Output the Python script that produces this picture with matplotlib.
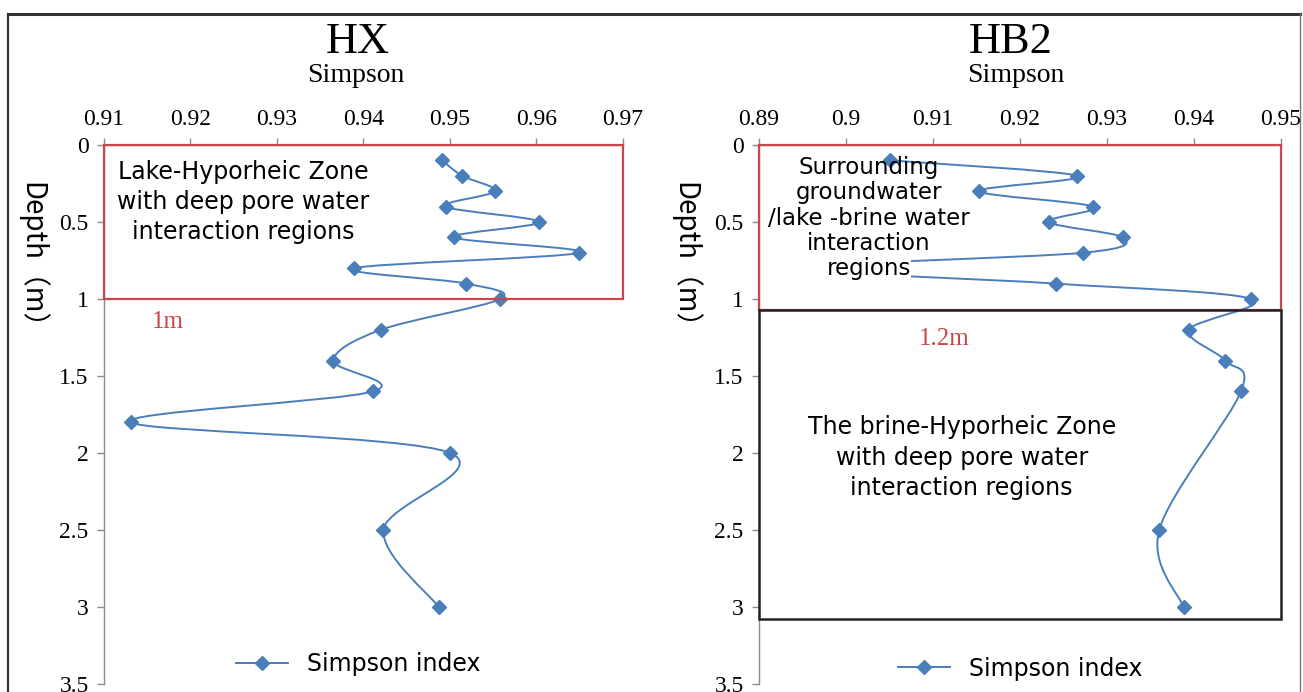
import numpy as np
import matplotlib
matplotlib.use("Agg")
import matplotlib.pyplot as plt
from matplotlib.path import Path
from matplotlib.patches import PathPatch, Rectangle
from matplotlib.lines import Line2D
from matplotlib.ticker import FuncFormatter

# ---- data -------------------------------------------------------------
hx_depth = [0.1, 0.2, 0.3, 0.4, 0.5, 0.6, 0.7, 0.8, 0.9, 1.0,
            1.2, 1.4, 1.6, 1.8, 2.0, 2.5, 3.0]
hx_simpson = [0.9491, 0.9514, 0.9552, 0.9495, 0.9603, 0.9505, 0.9649, 0.9389,
              0.9519, 0.9558, 0.9420, 0.9365, 0.9411, 0.9131, 0.9500, 0.9423,
              0.9487]

hb2_depth = [0.1, 0.2, 0.3, 0.4, 0.5, 0.6, 0.7, 0.8, 0.9, 1.0,
             1.2, 1.4, 1.6, 2.5, 3.0]
hb2_simpson = [0.9051, 0.9266, 0.9153, 0.9284, 0.9233, 0.9318, 0.9272, 0.8950,
               0.9241, 0.9466, 0.9394, 0.9436, 0.9454, 0.9360, 0.9388]

hx_xticks = [0.91, 0.92, 0.93, 0.94, 0.95, 0.96, 0.97]
hb2_xticks = [0.89, 0.90, 0.91, 0.92, 0.93, 0.94, 0.95]
depth_ticks = [0, 0.5, 1, 1.5, 2, 2.5, 3, 3.5]

W, H = 1303, 692
BLUE = "#4a7ebb"
RED = "#c9464b"
GREY = "#8c8c8c"
SERIF = "Liberation Serif"
SANS = "DejaVu Sans"


def smooth_path(x, y):
    """Catmull-Rom style cubic Bezier through the points (data coords)."""
    p = np.column_stack([x, y]).astype(float)
    verts = [p[0]]
    codes = [Path.MOVETO]
    n = len(p)
    for i in range(n - 1):
        p0 = p[i - 1] if i > 0 else p[i]
        p1, p2 = p[i], p[i + 1]
        p3 = p[i + 2] if i + 2 < n else p[i + 1]
        verts += [p1 + (p2 - p0) / 6.0, p2 - (p3 - p1) / 6.0, p2]
        codes += [Path.CURVE4] * 3
    return Path(verts, codes)


def setup(ax, xticks):
    ax.set_xlim(xticks[0], xticks[-1])
    ax.set_ylim(3.5, 0)
    ax.xaxis.tick_top()
    ax.set_xticks(xticks)
    ax.set_yticks(depth_ticks)
    ax.xaxis.set_major_formatter(FuncFormatter(lambda v, _: f"{v:g}"))
    ax.yaxis.set_major_formatter(FuncFormatter(lambda v, _: f"{v:g}"))
    for s in ("right", "bottom"):
        ax.spines[s].set_visible(False)
    for s in ("left", "top"):
        ax.spines[s].set_color(GREY)
        ax.spines[s].set_linewidth(1.0)
    ax.tick_params(axis="both", direction="out", length=5, width=1,
                   color=GREY, labelsize=17, pad=6)
    for lab in ax.get_xticklabels() + ax.get_yticklabels():
        lab.set_fontfamily(SERIF)
    ax.patch.set_alpha(0)


def draw_series(ax, x, y):
    ax.add_patch(PathPatch(smooth_path(x, y), fill=False, edgecolor=BLUE,
                           lw=1.4, zorder=3))
    ax.plot(x, y, linestyle="none", marker="D", ms=7, color=BLUE,
            zorder=4)
    handle = Line2D([], [], color=BLUE, lw=1.4, marker="D", ms=7)
    return handle


fig = plt.figure(figsize=(W / 100, H / 100), dpi=100)
axL = fig.add_axes([104 / W, 1 - 684 / H, 519 / W, 539 / H])
axR = fig.add_axes([759 / W, 1 - 684 / H, 522 / W, 539 / H])
setup(axL, hx_xticks)
setup(axR, hb2_xticks)

# ---- HX panel ---------------------------------------------------------
hL = draw_series(axL, hx_simpson, hx_depth)
axL.add_patch(Rectangle((0.91, 0), 0.06, 1.0, fill=False, edgecolor=RED,
                        lw=1.6, zorder=5, clip_on=False))
axL.text(0.9261, 0.37, "Lake-Hyporheic Zone\nwith deep pore water\ninteraction regions",
         ha="center", va="center", fontsize=17, family=SANS,
         linespacing=1.33, zorder=6)
axL.text(0.9174, 1.15, "1m", ha="center", va="center", fontsize=18,
         family=SERIF, color=RED, zorder=6)
axL.legend([hL], ["Simpson index"], loc="center", frameon=False,
           bbox_to_anchor=(0.9394, 3.37), bbox_transform=axL.transData,
           prop={"family": SANS, "size": 17}, handlelength=2.2,
           handletextpad=0.8)

# ---- HB2 panel --------------------------------------------------------
hR = draw_series(axR, hb2_simpson, hb2_depth)
axR.add_patch(Rectangle((0.8905, 0.72), 0.017, 0.16, facecolor="white",
                        edgecolor="none", zorder=5))
axR.add_patch(Rectangle((0.89, 0), 0.06, 1.073, fill=False, edgecolor=RED,
                        lw=1.6, zorder=6, clip_on=False))
axR.add_patch(Rectangle((0.89, 1.073), 0.06, 2.007, fill=False,
                        edgecolor="#222222", lw=1.8, zorder=6, clip_on=False))
axR.text(0.9026, 0.475, "Surrounding\ngroundwater\n/lake -brine water\ninteraction\nregions",
         ha="center", va="center", fontsize=16.5, family=SANS,
         linespacing=1.12, zorder=7)
axR.text(0.9113, 1.26, "1.2m", ha="center", va="center", fontsize=18,
         family=SERIF, color=RED, zorder=7)
axR.text(0.9133, 2.03, "The brine-Hyporheic Zone\nwith deep pore water\ninteraction regions",
         ha="center", va="center", fontsize=17, family=SANS,
         linespacing=1.36, zorder=7)
axR.legend([hR], ["Simpson index"], loc="center", frameon=False,
           bbox_to_anchor=(0.920, 3.40), bbox_transform=axR.transData,
           prop={"family": SANS, "size": 17}, handlelength=2.2,
           handletextpad=0.8)

# ---- titles and axis captions ----------------------------------------
for cx, name in ((358, "HX"), (1011, "HB2")):
    fig.text(cx / W, 1 - 42 / H, name, ha="center", va="center",
             fontsize=32, family=SERIF)
for cx in (356, 1016):
    fig.text(cx / W, 1 - 75 / H, "Simpson", ha="center", va="center",
             fontsize=20, family=SERIF)
for cx, cy in ((32, 262), (685, 262)):
    fig.text(cx / W, 1 - cy / H, "Depth（m）", ha="center", va="center",
             rotation=-90, fontsize=20,
             family=["Noto Sans CJK SC", "DejaVu Sans"])

# ---- outer frame ------------------------------------------------------
fig.add_artist(Line2D([8 / W, 1300 / W], [1 - 14 / H, 1 - 14 / H],
                      transform=fig.transFigure, color="#333333", lw=2.2))
fig.add_artist(Line2D([8 / W, 8 / W], [1 - 14 / H, 0],
                      transform=fig.transFigure, color="#333333", lw=1.6))
fig.add_artist(Line2D([1300 / W, 1300 / W], [1 - 14 / H, 0],
                      transform=fig.transFigure, color="#777777", lw=1.0))

fig.savefig("out.png", dpi=100)
